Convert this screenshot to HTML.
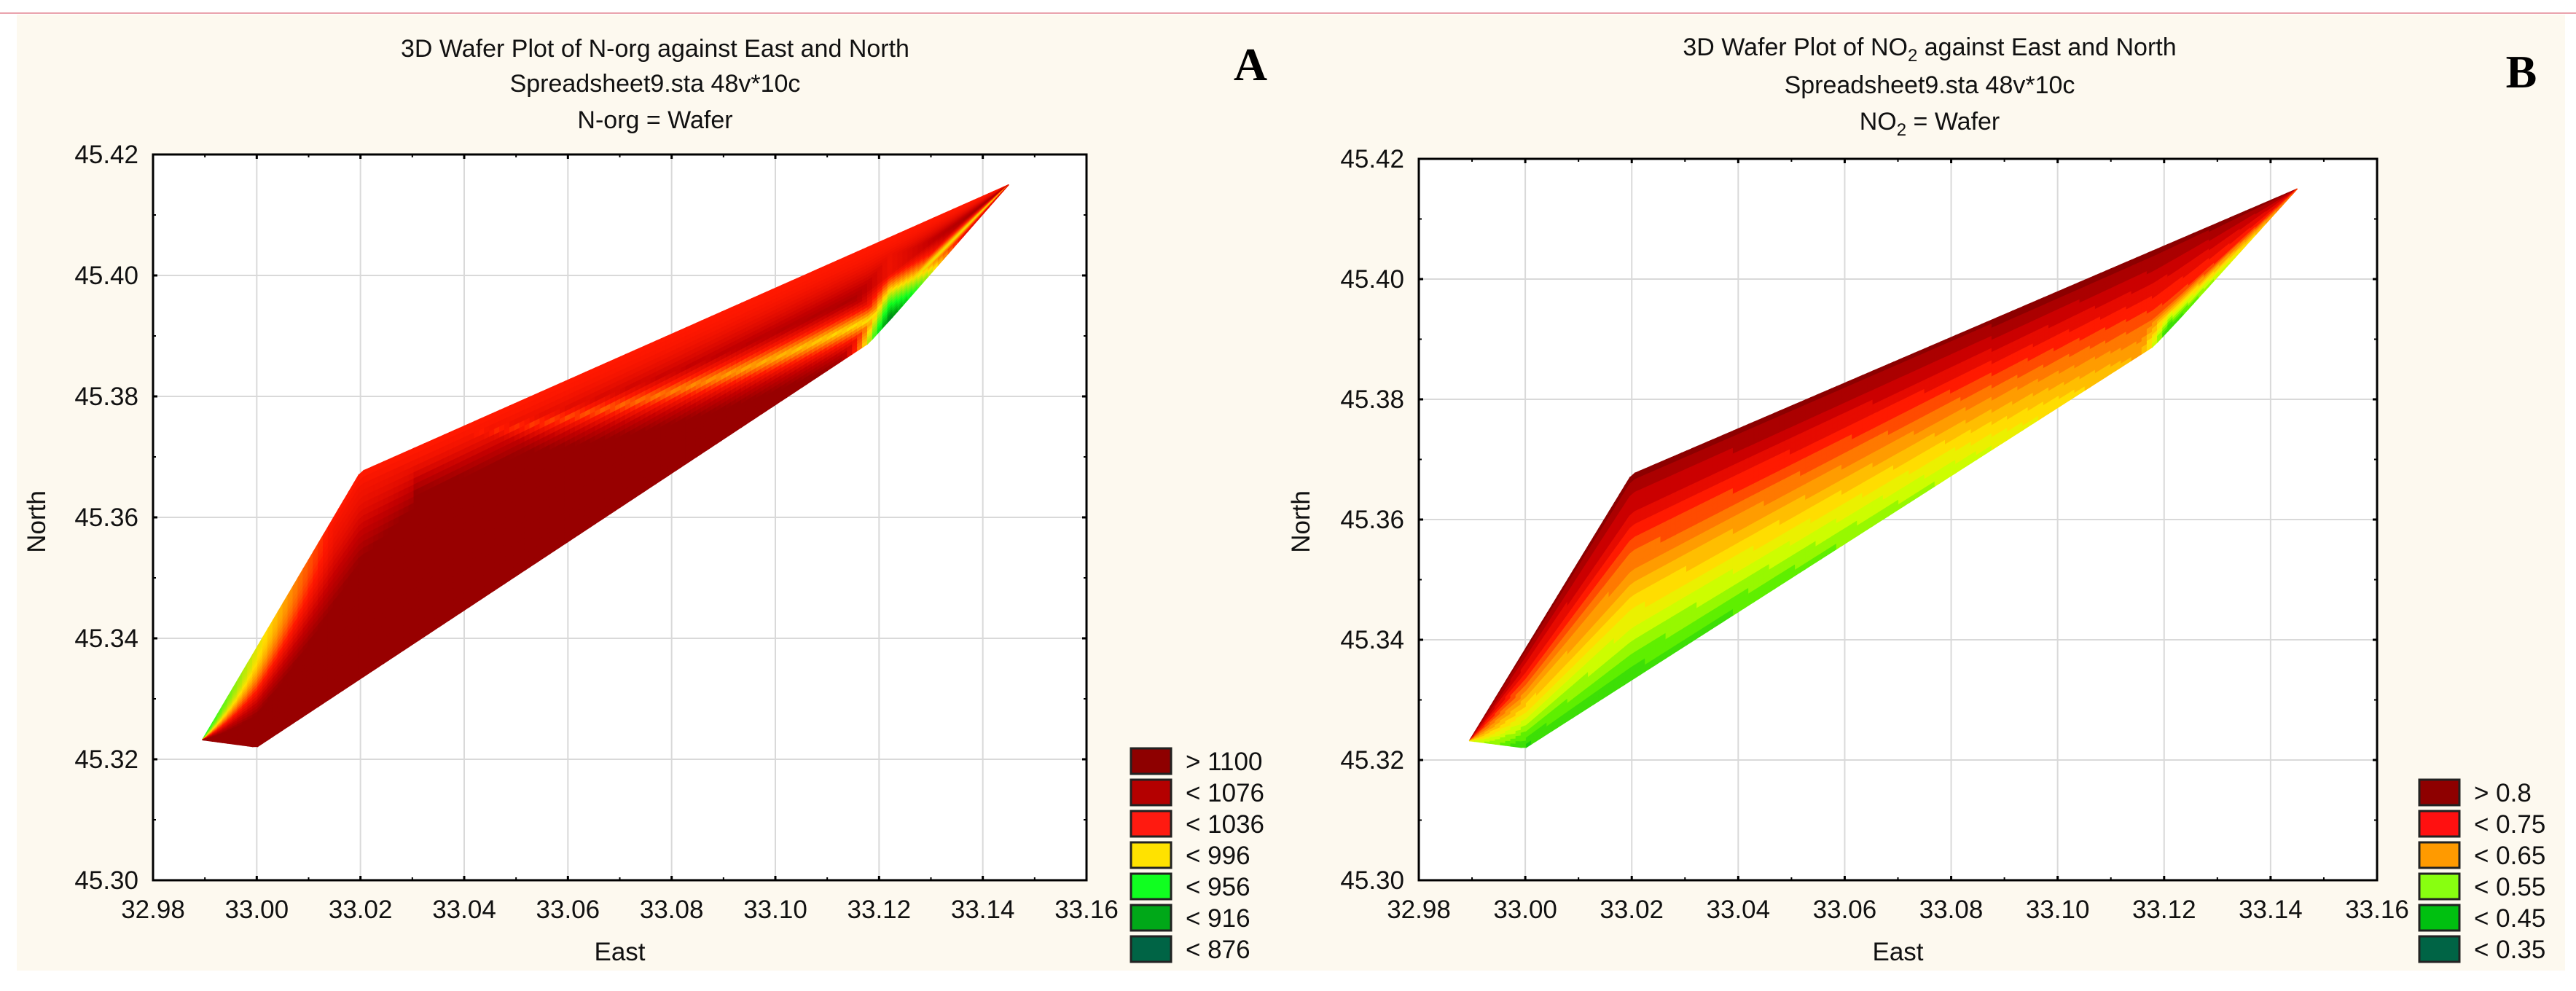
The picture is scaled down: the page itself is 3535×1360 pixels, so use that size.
<!DOCTYPE html>
<html><head><meta charset="utf-8">
<style>
html,body{margin:0;padding:0;background:#fff;}
svg{display:block;font-family:"Liberation Sans",sans-serif;}
</style></head>
<body>
<svg id="chart" width="3535" height="1360" viewBox="0 0 3535 1360">
<rect x="0" y="0" width="3535" height="1360" fill="#fff"/>
<line x1="0" y1="18" x2="3535" y2="18" stroke="#e9a3ad" stroke-width="2"/>
<rect x="23" y="20" width="3497" height="1312" fill="#fdf9ef"/>
<g id="panelA"></g>
<g id="panelB"></g>
</svg>
<script>
const eastTicks = [32.98,33.00,33.02,33.04,33.06,33.08,33.10,33.12,33.14,33.16];
const northTicks = [45.30,45.32,45.34,45.36,45.38,45.40,45.42];
const shapeEast = [32.9895,33.000,33.118,33.123,33.145,33.020];
const shapeNorth = [45.3232,45.3220,45.3888,45.3935,45.4150,45.3675];
const upperEdgeIdx = [0,5,4];
const lowerEdgeIdx = [0,1,2,3,4];
const legendALabels = ["> 1100","< 1076","< 1036","< 996","< 956","< 916","< 876"];
const legendAColors = ["#8e0000","#b40000","#ff1a10","#ffe200","#10ff20","#00a818","#006445"];
const legendBLabels = ["> 0.8","< 0.75","< 0.65","< 0.55","< 0.45","< 0.35"];
const legendBColors = ["#8e0000","#ff1010","#ff9a00","#88ff10","#00c010","#006445"];
// lower-edge NO2 level (0..1 scale) along East for panel B
const lowEdgeEastB = [32.9895,33.000,33.040,33.080,33.118,33.145];
const lowEdgeLevelB = [0.42,0.18,0.24,0.36,0.60,0.72];

const NS="http://www.w3.org/2000/svg";
function mk(tag, attrs, parent){const e=document.createElementNS(NS,tag);for(const k in attrs)e.setAttribute(k,attrs[k]);parent.appendChild(e);return e;}
function interp(xsArr,ysArr,x){if(x<=xsArr[0])return ysArr[0];for(let i=1;i<xsArr.length;i++){if(x<=xsArr[i]){const t=(x-xsArr[i-1])/(xsArr[i]-xsArr[i-1]||1);return ysArr[i-1]+t*(ysArr[i]-ysArr[i-1]);}}return ysArr[ysArr.length-1];}
function hex(c){return [parseInt(c.substr(1,2),16),parseInt(c.substr(3,2),16),parseInt(c.substr(5,2),16)];}
function ramp(stops,z){z=Math.max(0,Math.min(1,z));for(let i=1;i<stops.length;i++){if(z<=stops[i][0]){const t=(z-stops[i-1][0])/(stops[i][0]-stops[i-1][0]);const a=hex(stops[i-1][1]),b=hex(stops[i][1]);return 'rgb('+a.map((v,k)=>Math.round(v+t*(b[k]-v))).join(',')+')';}}return stops[stops.length-1][1];}
const clamp=(v,a,b)=>Math.max(a,Math.min(b,v));
const stopsA=[[0,"#006040"],[0.15,"#00a010"],[0.3,"#10ff20"],[0.5,"#ffe000"],[0.7,"#ff1800"],[0.85,"#c40000"],[1,"#980000"]];
const stopsB=[[0,"#006040"],[0.12,"#00c010"],[0.28,"#60f000"],[0.38,"#c8ff00"],[0.48,"#ffe800"],[0.58,"#ffb000"],[0.68,"#ff7000"],[0.78,"#ff1800"],[0.88,"#d00000"],[1,"#8c0000"]];

function zA(x,f){
  let z=1;
  const wu=0.2+0.35*clamp((x-33.02)/0.1,0,1);
  const fu=clamp(f/wu,0,1);
  z=Math.min(z,0.7+0.3*fu*fu);
  if(x<33.03){const wl=0.3+0.5*clamp((33.03-x)/0.04,0,1);const ze=0.72-0.42*clamp((33.015-x)/0.0255,0,1);const fl=clamp(f/wl,0,1);z=Math.min(z,ze+(1-ze)*fl*fl);}
  if(x>33.04){const s=clamp((x-33.04)/0.082,0,1);const fc=0.05+0.75*s;const zs=0.7-0.22*s;const w=0.12+0.22*s;z=Math.min(z,zs+(1-zs)*clamp(Math.abs(f-fc)/w,0,1));}
  if(x>33.112){const s=clamp((33.142-x)/0.02,0,1)*clamp((x-33.112)/0.01,0,1);const tip=0.74-0.66*clamp((f-0.45)/0.55,0,1);z=Math.min(z,1-(1-tip)*s);}
  return z;
}
function zB(x,f){
  const zl=interp(lowEdgeEastB,lowEdgeLevelB,x);
  let z=1-f*(1-zl);
  if(x>33.116){const s=clamp((33.145-x)/0.029,0,1)*clamp((x-33.116)/0.005,0,1);z=Math.min(z,z-(z-0.08)*s*clamp((f-0.7)/0.3,0,1));}
  return Math.round(z*18)/18;
}

function drawPanel(g, P){
  const xs=v=>P.left+(v-32.98)/(0.18)*(P.right-P.left);
  const ys=v=>P.bottom-(v-45.30)/(0.12)*(P.bottom-P.top);
  const area=mk('rect',{x:P.left,y:P.top,width:P.right-P.left,height:P.bottom-P.top,fill:'#fff'},g);
  
  
  eastTicks.forEach((t,i)=>{
    const x=xs(t);
    if(i>0&&i<eastTicks.length-1){const gl=mk('line',{x1:x,y1:P.top,x2:x,y2:P.bottom,stroke:'#d9d9d9','stroke-width':2},g);
      
      }
    const lb=mk('text',{x:x,y:P.bottom+52,'font-size':35,'text-anchor':'middle',fill:'#111'},g);
    lb.textContent=t.toFixed(2);
    
    
    [P.bottom,P.top].forEach(yb=>{mk('line',{x1:x,y1:yb,x2:x,y2:yb+(yb===P.top?6:-6),stroke:'#000','stroke-width':3},g);});
    if(i<eastTicks.length-1){const xm=xs(t+0.01);[P.bottom,P.top].forEach(yb=>{mk('line',{x1:xm,y1:yb,x2:xm,y2:yb+(yb===P.top?4:-4),stroke:'#000','stroke-width':2},g);});}
  });
  northTicks.forEach((t,i)=>{
    const y=ys(t);
    if(i>0&&i<northTicks.length-1){const gl=mk('line',{x1:P.left,y1:y,x2:P.right,y2:y,stroke:'#d9d9d9','stroke-width':2},g);
      
      }
    const lb=mk('text',{x:P.left-20,y:y+12,'font-size':35,'text-anchor':'end',fill:'#111'},g);
    lb.textContent=t.toFixed(2);
    
    
    [P.left,P.right].forEach(xb=>{mk('line',{x1:xb,y1:y,x2:xb+(xb===P.left?6:-6),y2:y,stroke:'#000','stroke-width':3},g);});
    if(i<northTicks.length-1){const ym=ys(t+0.01);[P.left,P.right].forEach(xb=>{mk('line',{x1:xb,y1:ym,x2:xb+(xb===P.left?4:-4),y2:ym,stroke:'#000','stroke-width':2},g);});}
  });
  const uE=upperEdgeIdx.map(i=>shapeEast[i]),uN=upperEdgeIdx.map(i=>shapeNorth[i]);
  const lE=lowerEdgeIdx.map(i=>shapeEast[i]),lN=lowerEdgeIdx.map(i=>shapeNorth[i]);
  const x0=Math.min(...shapeEast),x1=Math.max(...shapeEast);
  const surf=mk('g',{},g);
  
  
  const NX=160,NF=32;
  for(let i=0;i<NX;i++){
    const xa=x0+(x1-x0)*i/NX,xb=x0+(x1-x0)*(i+1)/NX;
    const ua=interp(uE,uN,xa),ub=interp(uE,uN,xb),la=interp(lE,lN,xa),lb=interp(lE,lN,xb);
    for(let j=0;j<NF;j++){
      const fa=j/NF,fb=(j+1)/NF;
      const col=ramp(P.stops,P.zf((xa+xb)/2,(fa+fb)/2));
      const pts=[[xs(xa),ys(ua+(la-ua)*fa)],[xs(xb),ys(ub+(lb-ub)*fa)],[xs(xb),ys(ub+(lb-ub)*fb)],[xs(xa),ys(ua+(la-ua)*fb)]];
      mk('polygon',{points:pts.map(p=>p.join(',')).join(' '),fill:col,stroke:col,'stroke-width':1.2},surf);
    }
  }
  const frame=mk('rect',{x:P.left,y:P.top,width:P.right-P.left,height:P.bottom-P.top,fill:'none',stroke:'#000','stroke-width':3},g);
  
  
  P.titles.forEach((s,i)=>{const tt=mk('text',{x:P.tcx,y:P.ty[i],'font-size':34,'text-anchor':'middle',fill:'#111'},g);
    tt.innerHTML=s;
    
    });
  const lt=mk('text',{x:P.letterX,y:P.letterY,'font-size':64,'font-weight':'bold','font-family':'Liberation Serif, serif','text-anchor':'middle',fill:'#000'},g);
  lt.textContent=P.letter;
  
  
  const xt=mk('text',{x:(P.left+P.right)/2,y:1318,'font-size':35,'text-anchor':'middle',fill:'#111'},g);
  xt.textContent='East';
  
  
  const yt=mk('text',{x:P.nx,y:716,'font-size':35,'text-anchor':'middle',fill:'#111',transform:'rotate(-90 '+P.nx+' 716)'},g);
  yt.textContent='North';
  
  
  const n=P.legLabels.length;
  P.legLabels.forEach((s,i)=>{
    const y=1285-(n-1-i)*43;
    const r=mk('rect',{x:P.legX,y:y,width:55,height:35,fill:P.legColors[i],stroke:'#222','stroke-width':3},g);
    
    
    const tx=mk('text',{x:P.legX+75,y:y+30,'font-size':35,fill:'#111'},g);
    tx.textContent=s;
    
    
  });
}

drawPanel(document.getElementById('panelA'),{left:210,right:1491,top:212,bottom:1208,stops:stopsA,zf:zA,
  titles:["3D Wafer Plot of N-org against East and North","Spreadsheet9.sta 48v*10c","N-org = Wafer"],tcx:899,ty:[78,126,176],
  letter:"A",letterX:1716,letterY:110,nx:62,legX:1552,legLabels:legendALabels,legColors:legendAColors});
drawPanel(document.getElementById('panelB'),{left:1947,right:3262,top:218,bottom:1208,stops:stopsB,zf:zB,
  titles:["3D Wafer Plot of NO<tspan font-size='24' dy='8'>2</tspan><tspan dy='-8'> against East and North</tspan>","Spreadsheet9.sta 48v*10c","NO<tspan font-size='24' dy='8'>2</tspan><tspan dy='-8'> = Wafer</tspan>"],tcx:2648,ty:[76,128,178],
  letter:"B",letterX:3460,letterY:120,nx:1797,legX:3320,legLabels:legendBLabels,legColors:legendBColors});
</script>
</body></html>
